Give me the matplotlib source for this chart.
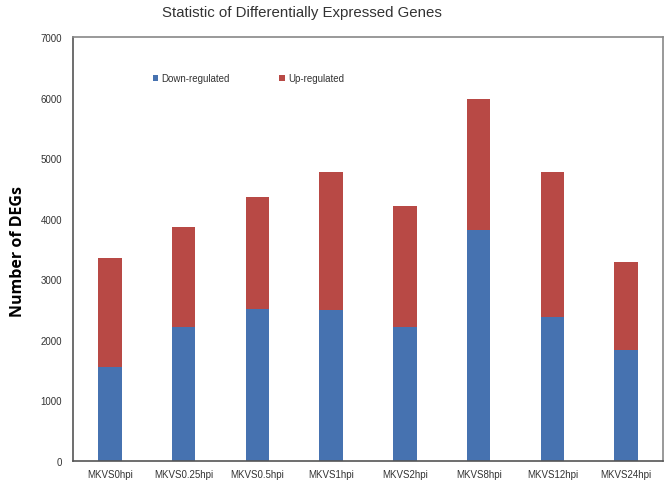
import numpy as np
import matplotlib
matplotlib.use("Agg")
import matplotlib.pyplot as plt

# values
samples = ["MKVS0hpi", "MKVS0.25hpi", "MKVS0.5hpi", "MKVS1hpi",
           "MKVS2hpi", "MKVS8hpi", "MKVS12hpi", "MKVS24hpi"]
down = [1560, 2210, 2505, 2485, 2210, 3815, 2385, 1835]
total = [3355, 3865, 4355, 4765, 4215, 5975, 4765, 3285]
up = [t - d for t, d in zip(total, down)]

plt.rcParams['font.family'] = ['Liberation Sans', 'DejaVu Sans']

fig = plt.figure(figsize=(6.66, 4.81), dpi=100)
ax = fig.add_axes([0.1096, 0.0395, 0.8859, 0.8815])

x = np.arange(len(samples))
ax.bar(x, down, width=0.32, color="#4672b0", label="Down-regulated")
ax.bar(x, up, width=0.32, bottom=down, color="#b84945", label="Up-regulated")

ax.set_xlim(-0.5, len(samples) - 0.5)
ax.set_ylim(0, 7000)
ax.set_yticks(np.arange(0, 7001, 1000))
ax.set_xticks(x)
ax.set_xticklabels(samples)
ax.tick_params(axis='y', length=0, pad=8, labelsize=7, labelcolor="#333333")
ax.tick_params(axis='x', length=0, pad=6, labelsize=7, labelcolor="#333333")

for side in ['left', 'bottom']:
    ax.spines[side].set_color("#555555")
for side in ['top', 'right']:
    ax.spines[side].set_color("#888888")
for sp in ax.spines.values():
    sp.set_linewidth(1.2)

# y label placed by hand, well left of the tick labels
fig.text(0.027, 0.478, "Number of DEGs", family=['Open Sans', 'DejaVu Sans'],
         fontweight='bold', fontsize=11.5, rotation=90, ha='center', va='center')

fig.text(0.454, 0.974, "Statistic of Differentially Expressed Genes",
         ha='center', va='center', fontsize=10.8, color="#333333")

ax.legend(loc='upper left', bbox_to_anchor=(0.12, 0.935), ncol=2, frameon=False,
          fontsize=7, handlelength=0.6, handleheight=0.6, handletextpad=0.3,
          columnspacing=5.1, labelcolor="#333333")

fig.savefig("out.png", dpi=100)
